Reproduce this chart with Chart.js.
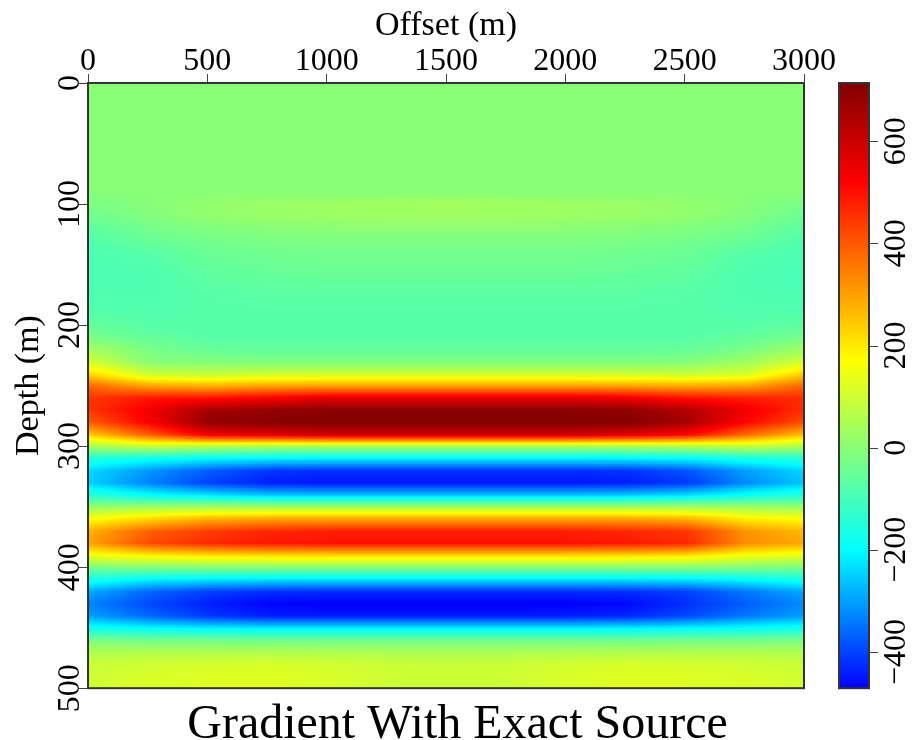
<!DOCTYPE html>
<html>
<head>
<meta charset="utf-8">
<script src="https://cdn.jsdelivr.net/npm/chart.js@4/dist/chart.umd.min.js"></script>
<style>
  html, body { margin: 0; padding: 0; background: #fff; }
</style>
</head>
<body>
<canvas id="chart" width="912" height="740"></canvas>
<script>
// offsets (m) of the grid columns, depths (m) of the grid rows
const offsets = [0, 250, 500, 750, 1000, 1250, 1500, 1750, 2000, 2250, 2500, 2750, 3000]
const depths = [0, 10, 20, 30, 40, 50, 60, 70, 80, 90,
  100, 110, 120, 130, 140, 150, 160, 170, 180, 190,
  200, 210, 220, 230, 240, 250, 260, 270, 280, 290,
  300, 310, 320, 330, 340, 350, 360, 370, 380, 390,
  400, 410, 420, 430, 440, 450, 460, 470, 480, 490, 500]

// gradient values, one row per depth
const gradient = [
  [0, 0, 0, 0, 0, 0, 0, 0, 0, 0, 0, 0, 0],
  [0, 0, 0, 0, 0, 0, 0, 0, 0, 0, 0, 0, 0],
  [0, 0, 0, 0, 0, 0, 0, 0, 0, 0, 0, 0, 0],
  [0, 0, 0, 0, 0, 0, 0, 0, 0, 0, 0, 0, 0],
  [0, 0, 0, 0, 0, 0, 0, 0, 0, 0, 0, 0, 0],
  [0, 0, 0, 0, 0, 0, 0, 0, 0, 0, 0, 0, 0],
  [0, 0, 0, 0, 0, 0, 0, 0, 0, 0, 0, 0, 0],
  [0, 0, 0, 0, 0, 0, 0, 0, 0, 0, 0, 0, 0],
  [0, 0, 0, 0, 0, 0, 0, 0, 0, 0, 0, 0, 0],
  [0, 0, 0, 0, 0, 0, 0, 0, 0, 0, 0, 0, 0],
  [-20, 0, 15, 25, 30, 35, 40, 35, 30, 25, 15, 0, -25],
  [-40, -10, 10, 20, 25, 30, 30, 30, 25, 20, 10, -10, -45],
  [-60, -30, -10, 0, 5, 5, 5, 5, 5, 0, -10, -30, -65],
  [-75, -50, -30, -20, -15, -15, -15, -15, -15, -20, -30, -50, -80],
  [-85, -70, -45, -35, -30, -30, -30, -30, -30, -35, -45, -70, -90],
  [-90, -80, -55, -45, -40, -40, -40, -40, -40, -45, -55, -80, -95],
  [-90, -85, -60, -55, -50, -50, -50, -50, -50, -55, -60, -85, -95],
  [-85, -85, -65, -60, -60, -60, -60, -60, -60, -60, -65, -85, -90],
  [-80, -80, -70, -65, -65, -65, -65, -65, -65, -65, -70, -80, -85],
  [-70, -75, -75, -70, -70, -70, -70, -70, -70, -70, -75, -75, -75],
  [-55, -70, -75, -75, -75, -75, -75, -75, -75, -75, -75, -70, -60],
  [-20, -55, -70, -72, -72, -72, -72, -72, -72, -72, -70, -55, -25],
  [40, -20, -50, -55, -55, -55, -55, -55, -55, -55, -50, -20, 35],
  [100, 0, -5, -15, -15, -15, -15, -15, -15, -15, -5, 30, 110],
  [220, 90, 80, 95, 100, 100, 100, 100, 100, 95, 85, 110, 240],
  [380, 300, 280, 300, 300, 300, 300, 300, 300, 300, 290, 300, 390],
  [450, 490, 500, 530, 560, 560, 560, 560, 560, 540, 500, 480, 460],
  [450, 540, 660, 680, 700, 700, 700, 700, 700, 690, 640, 540, 460],
  [400, 530, 690, 705, 714, 714, 714, 714, 714, 714, 660, 520, 410],
  [250, 400, 540, 570, 600, 600, 600, 600, 600, 570, 520, 380, 260],
  [40, 80, 60, 45, 40, 40, 40, 40, 40, 45, 55, 80, 50],
  [-150, -180, -200, -210, -210, -210, -210, -210, -210, -210, -200, -170, -140],
  [-240, -310, -370, -410, -420, -420, -420, -420, -420, -415, -380, -300, -240],
  [-250, -330, -400, -440, -450, -450, -450, -450, -450, -440, -410, -320, -255],
  [-140, -190, -230, -255, -260, -260, -260, -260, -260, -255, -235, -185, -145],
  [20, 30, 40, 40, 40, 40, 40, 40, 40, 40, 40, 30, 20],
  [170, 230, 280, 300, 300, 300, 300, 300, 300, 300, 280, 200, 170],
  [280, 390, 440, 470, 480, 480, 480, 480, 480, 470, 450, 320, 270],
  [300, 420, 470, 490, 500, 500, 500, 500, 500, 490, 470, 330, 290],
  [150, 190, 210, 220, 220, 220, 220, 220, 220, 220, 210, 160, 140],
  [-20, -10, 0, 0, 0, 0, 0, 0, 0, 0, 0, -10, -20],
  [-170, -210, -225, -230, -230, -230, -230, -230, -230, -230, -225, -200, -170],
  [-290, -360, -400, -420, -425, -425, -425, -425, -425, -420, -400, -340, -290],
  [-330, -390, -440, -465, -475, -475, -475, -475, -470, -460, -420, -370, -320],
  [-300, -360, -410, -440, -445, -445, -445, -445, -440, -430, -390, -340, -300],
  [-180, -200, -215, -220, -220, -220, -220, -220, -220, -215, -205, -190, -175],
  [-20, -30, -30, -35, -35, -35, -35, -35, -35, -35, -30, -30, -20],
  [60, 60, 60, 60, 55, 50, 50, 50, 55, 60, 60, 60, 60],
  [90, 100, 110, 115, 105, 95, 90, 95, 105, 115, 110, 100, 90],
  [100, 115, 125, 130, 115, 100, 95, 100, 115, 130, 125, 115, 100],
  [100, 120, 130, 130, 115, 100, 95, 100, 115, 130, 125, 120, 105]
]

// tick labels
const offsetTicks = [0, 500, 1000, 1500, 2000, 2500, 3000]
const depthTicks = [0, 100, 200, 300, 400, 500]
const colorTicks = [-400, -200, 0, 200, 400, 600]

// colorbar range
const clipMin = -471
const clipMax = 714

// jet-like colour table, stops given in data units
const cmapStops = [-471, -200, 170, 520, 714]
const cmapColors = [[0, 0, 255], [0, 255, 255], [255, 255, 0], [255, 0, 0], [128, 0, 0]]

const FONT = '"Liberation Serif", "Times New Roman", serif'
const TICK_COLOR = '#444'

function colorFor(v) {
  if (v <= cmapStops[0]) return cmapColors[0]
  for (let i = 1; i < cmapStops.length; i++) {
    if (v <= cmapStops[i]) {
      const t = (v - cmapStops[i - 1]) / (cmapStops[i] - cmapStops[i - 1])
      const a = cmapColors[i - 1]
      const b = cmapColors[i]
      return [a[0] + (b[0] - a[0]) * t, a[1] + (b[1] - a[1]) * t, a[2] + (b[2] - a[2]) * t]
    }
  }
  return cmapColors[cmapColors.length - 1]
}

const minusLabel = v => (v < 0 ? '\u2212' + Math.abs(v) : String(v))

// paints the gradient grid into the chart area, with smooth display like an imshow
const gradientImage = {
  id: 'gradientImage',
  beforeDatasetsDraw(chart) {
    const { ctx, chartArea: area, scales } = chart
    const nRows = depths.length
    const nCols = offsets.length

    // values packed as grey levels, one pixel per grid cell
    const small = document.createElement('canvas')
    small.width = nCols
    small.height = nRows
    const sctx = small.getContext('2d')
    const img = sctx.createImageData(nCols, nRows)
    for (let r = 0; r < nRows; r++) {
      for (let c = 0; c < nCols; c++) {
        let t = (gradient[r][c] - clipMin) / (clipMax - clipMin)
        t = Math.max(0, Math.min(1, t))
        const i = (r * nCols + c) * 4
        img.data[i] = img.data[i + 1] = img.data[i + 2] = Math.round(t * 255)
        img.data[i + 3] = 255
      }
    }
    sctx.putImageData(img, 0, 0)

    const w = Math.round(area.right - area.left)
    const h = Math.round(area.bottom - area.top)
    const big = document.createElement('canvas')
    big.width = w
    big.height = h
    const bctx = big.getContext('2d', { willReadFrequently: true })
    bctx.imageSmoothingEnabled = true

    const halfX = (offsets[1] - offsets[0]) / 2
    const halfY = (depths[1] - depths[0]) / 2
    const x0 = scales.x.getPixelForValue(offsets[0] - halfX)
    const x1 = scales.x.getPixelForValue(offsets[nCols - 1] + halfX)
    const y0 = scales.y.getPixelForValue(depths[0] - halfY)
    const y1 = scales.y.getPixelForValue(depths[nRows - 1] + halfY)
    bctx.drawImage(small, x0 - area.left, y0 - area.top, x1 - x0, y1 - y0)

    const px = bctx.getImageData(0, 0, w, h)
    for (let i = 0; i < px.data.length; i += 4) {
      const v = clipMin + (px.data[i] / 255) * (clipMax - clipMin)
      const col = colorFor(v)
      px.data[i] = col[0]
      px.data[i + 1] = col[1]
      px.data[i + 2] = col[2]
      px.data[i + 3] = 255
    }
    bctx.putImageData(px, 0, 0)

    ctx.save()
    ctx.drawImage(big, area.left, area.top)
    ctx.strokeStyle = '#333'
    ctx.lineWidth = 2
    ctx.strokeRect(area.left, area.top, area.right - area.left, area.bottom - area.top)
    ctx.restore()
  },
  afterDatasetsDraw(chart) {
    const { ctx, scales } = chart
    const cb = scales.cb
    const barLeft = cb.left + 35
    const barWidth = 30
    ctx.save()
    for (let py = Math.floor(cb.top); py < cb.bottom; py++) {
      const col = colorFor(cb.getValueForPixel(py + 0.5))
      ctx.fillStyle = 'rgb(' + col.map(Math.round).join(',') + ')'
      ctx.fillRect(barLeft, py, barWidth, 1)
    }
    ctx.strokeStyle = '#333'
    ctx.lineWidth = 2
    ctx.strokeRect(barLeft, cb.top, barWidth, cb.bottom - cb.top)
    ctx.strokeStyle = TICK_COLOR
    ctx.lineWidth = 1
    colorTicks.forEach(v => {
      const py = Math.round(cb.getPixelForValue(v)) + 0.5
      ctx.beginPath()
      ctx.moveTo(barLeft + barWidth, py)
      ctx.lineTo(barLeft + barWidth + 9, py)
      ctx.stroke()
    })
    ctx.restore()
  }
}

Chart.defaults.font.family = FONT
Chart.defaults.color = '#000'

const chart = new Chart(document.getElementById('chart'), {
  type: 'scatter',
  data: { datasets: [] },
  plugins: [gradientImage],
  options: {
    responsive: false,
    devicePixelRatio: 1,
    animation: false,
    layout: { padding: { left: 7, top: 3, right: 4, bottom: 0 } },
    plugins: {
      legend: { display: false },
      tooltip: { enabled: false },
      title: {
        display: true,
        position: 'bottom',
        text: 'Gradient With Exact Source',
        color: '#000',
        font: { size: 48, weight: 'normal', lineHeight: 0.6 },
        padding: { top: 23, bottom: 0 }
      }
    },
    scales: {
      x: {
        type: 'linear',
        position: 'top',
        min: 0,
        max: 3000,
        afterBuildTicks: axis => { axis.ticks = offsetTicks.map(v => ({ value: v })) },
        grid: { drawOnChartArea: false, tickLength: 9, color: TICK_COLOR },
        border: { display: false },
        ticks: { padding: -4, font: { size: 32, lineHeight: 1 }, color: '#000', callback: v => String(v) },
        title: { display: true, text: 'Offset (m)', color: '#000', font: { size: 34, lineHeight: 1 }, padding: { top: 6, bottom: 7 } }
      },
      y: {
        type: 'linear',
        position: 'left',
        reverse: true,
        min: 0,
        max: 500,
        afterBuildTicks: axis => { axis.ticks = depthTicks.map(v => ({ value: v })) },
        grid: { drawOnChartArea: false, tickLength: 9, color: TICK_COLOR },
        border: { display: false },
        ticks: {
          minRotation: 90, maxRotation: 90, crossAlign: 'center', padding: -16,
          font: { size: 32, lineHeight: 1 }, color: '#000', callback: v => String(v)
        },
        title: { display: true, text: 'Depth (m)', color: '#000', font: { size: 34, lineHeight: 1 }, padding: { top: 5, bottom: 33 } }
      },
      cb: {
        type: 'linear',
        position: 'right',
        min: clipMin,
        max: clipMax,
        afterBuildTicks: axis => { axis.ticks = colorTicks.map(v => ({ value: v })) },
        grid: { drawOnChartArea: false, drawTicks: true, tickLength: 60, color: 'rgba(0,0,0,0)' },
        border: { display: false },
        ticks: {
          minRotation: 90, maxRotation: 90, crossAlign: 'center', padding: 0,
          font: { size: 32, lineHeight: 1 }, color: '#000', callback: minusLabel
        },
        title: { display: true, text: '', font: { size: 12, lineHeight: 1 }, padding: 0 }
      }
    }
  }
})
</script>
</body>
</html>
